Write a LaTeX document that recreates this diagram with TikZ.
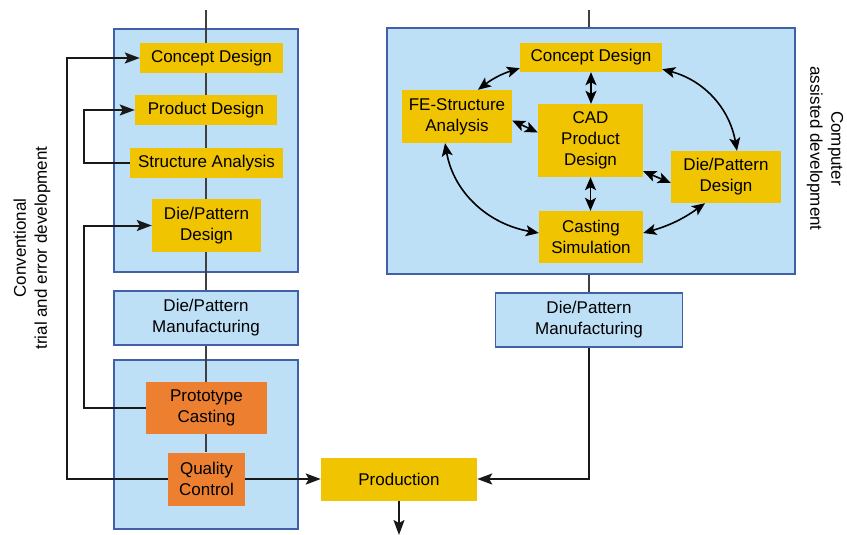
\documentclass[tikz,border=0pt]{standalone}
\usepackage{fontspec}
\setmainfont{Liberation Sans}
\usepackage{xcolor}
\usepackage{tikz}
\usetikzlibrary{positioning, arrows.meta, backgrounds}

\definecolor{panelblue}{RGB}{190,224,246}
\definecolor{paneledge}{RGB}{66,96,168}
\definecolor{boxyellow}{RGB}{240,196,0}
\definecolor{boxorange}{RGB}{236,128,48}

\tikzset{
  panel/.style={draw=paneledge, fill=panelblue, line width=1.5pt, inner sep=0pt, align=center},
  ybox/.style={fill=boxyellow, inner sep=0pt, align=center},
  obox/.style={fill=boxorange, inner sep=0pt, align=center},
  flow/.style={line width=2pt, draw=black!90},
  mainline/.style={line width=1.7pt, draw=black!75},
  tip/.style={-{Stealth[length=15pt,width=11pt,inset=3pt]}},
  both/.style={{Stealth[length=13pt,width=11pt,inset=3pt]}-{Stealth[length=13pt,width=11pt,inset=3pt]}, line width=1.6pt},
}

\begin{document}
\begin{tikzpicture}[x=1pt, y=-1pt, font=\fontsize{17}{21}\selectfont]
    \useasboundingbox (0,0) rectangle (847,535);

    % Define the conventional column
    \node[ybox, minimum width=143, minimum height=30] (lcd) at (211.5,58) {Concept Design};
    \node[ybox, minimum width=142, minimum height=30] (lpd) at (206,110) {Product Design};
    \node[ybox, minimum width=153, minimum height=30] (lsa) at (206.5,163) {Structure Analysis};
    \node[ybox, minimum width=109, minimum height=53] (ldp) at (206.5,225.5) {Die/Pattern\\Design};
    \node[panel, minimum width=184, minimum height=54] (lmf) at (206,318) {Die/Pattern\\Manufacturing};
    \node[obox, minimum width=121, minimum height=52] (lpc) at (206.5,408) {Prototype\\Casting};
    \node[obox, minimum width=77, minimum height=53] (lqc) at (206.5,479) {Quality\\Control};
    \node[ybox, minimum width=156, minimum height=43] (prod) at (399,479) {Production};

    % Define the computer assisted column
    \node[ybox, minimum width=142, minimum height=29] (rcd) at (591,57.5) {Concept Design};
    \node[ybox, minimum width=110, minimum height=53] (rfe) at (457,116.5) {FE-Structure\\Analysis};
    \node[ybox, minimum width=105, minimum height=73] (rcad) at (590.5,140.5) {CAD\\Product\\Design};
    \node[ybox, minimum width=110, minimum height=52] (rdp) at (726,177) {Die/Pattern\\Design};
    \node[ybox, minimum width=104, minimum height=52] (rcs) at (591,237) {Casting\\Simulation};
    \node[panel, minimum width=187, minimum height=54] (rmf) at (589,320) {Die/Pattern\\Manufacturing};

    % Side labels
    \node[rotate=90, align=center] (conv) at (32,248) {Conventional\\trial and error development};
    \node[rotate=-90, align=center] (comp) at (825,148.5) {Computer\\assisted development};

    % Panels and main lines
    \begin{pgfonlayer}{background}
        \node[panel, minimum width=184, minimum height=243] (lpanA) at (206,150.5) {};
        \node[panel, minimum width=184, minimum height=169] (lpanB) at (206,444.5) {};
        \node[panel, minimum width=408, minimum height=246] (rpan) at (591,151) {};
        \coordinate (ltop) at (206,10);
        \coordinate (rtop) at (589,10);
        \draw[mainline] (ltop) -- (ltop |- lqc.north);
        \draw[mainline] (rtop) -- (rtop |- rpan.north);
        \draw[mainline] (rtop |- rpan.south) -- (rtop |- rmf.north);
    \end{pgfonlayer}

    % Define the transitions
    \draw[flow, tip] (lqc.west) -| ([xshift=-73]lcd.west) -- (lcd.west);
    \draw[flow, tip] (lsa.west) -| ([xshift=-51]lpd.west) -- (lpd.west);
    \draw[flow, tip] (lpc.west) -| ([xshift=-68]ldp.west) -- (ldp.west);
    \draw[flow, tip, line width=2.4pt] (lqc.east) -- (prod.west);
    \draw[flow, tip] (rmf.south) |- (prod.east);
    \coordinate (out) at (399,535);
    \draw[flow, tip] (prod.south) -- (out);

    % Design loop
    \draw[both] ([yshift=4]rcd.south west) to[bend right=10] ([xshift=21]rfe.north);
    \draw[both] ([yshift=3]rcd.south east) to[out=-15, in=100] ([xshift=11]rdp.north);
    \draw[both] ([xshift=-12]rfe.south) to[out=-80, in=170] ([yshift=4]rcs.west);
    \draw[both] ([xshift=-21]rdp.south) to[bend left=10] ([yshift=4]rcs.east);
    \draw[both] ([yshift=-4]rfe.east) -- ([yshift=8]rcad.west);
    \draw[both] ([yshift=6]rcad.south east) -- ([yshift=-6]rdp.west);
    \draw[both] (rcd.south) -- (rcd.south |- rcad.north);
    \draw[both] (rcad.south) -- (rcad.south |- rcs.north);

\end{tikzpicture}
\end{document}
